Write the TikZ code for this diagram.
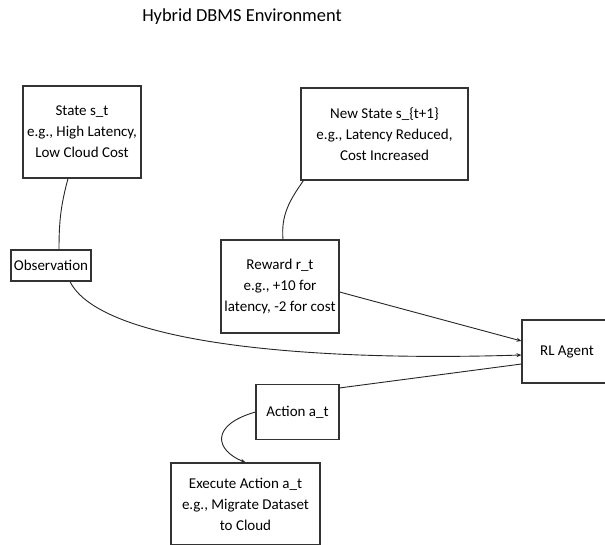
\documentclass[tikz,border=0pt]{standalone}
\usepackage{fontspec}
\setmainfont{Carlito}
\usetikzlibrary{arrows.meta,calc}

\tikzset{
  box/.style={draw=black!80, line width=1.1pt, rectangle, align=center,
    inner sep=0pt, font=\fontsize{15}{21}\selectfont},
  link/.style={draw=black!85, line width=0.9pt},
  arrowlink/.style={link, -{Stealth[length=5pt,width=4pt]}},
}

\begin{document}
\begin{tikzpicture}[x=1pt,y=-1pt]
  \clip (0,0) rectangle (605,544);
  \fill[white] (0,0) rectangle (605,544);

  % heading
  \node (title) at (242,17) {\fontsize{18.4}{22}\selectfont Hybrid DBMS Environment};

  % environment states, feedback and actions
  \node[box, minimum width=118pt, minimum height=92pt] (st) at (82,132)
    {State s\_t\\e.g., High Latency,\\Low Cloud Cost};
  \node[box, minimum width=167pt, minimum height=92pt] (ns) at (384.5,134)
    {New State s\_\{t+1\}\\e.g., Latency Reduced,\\Cost Increased};
  \node[box, minimum width=80pt, minimum height=31pt] (obs) at (51,265.5)
    {Observation};
  \node[box, minimum width=118pt, minimum height=93pt] (rew) at (280,286.5)
    {Reward r\_t\\e.g., +10 for\\latency, -2 for cost};
  \node[box, minimum width=90pt, minimum height=63pt] (agent) at (567,351.5)
    {RL Agent};
  \node[box, minimum width=83pt, minimum height=55pt] (act) at (297.5,412)
    {Action a\_t};
  \node[box, minimum width=149pt, minimum height=82pt] (exe) at (245.5,504)
    {Execute Action a\_t\\e.g., Migrate Dataset\\to Cloud};

  % connectors
  \draw[link] ($(st.south)+(-14,0)$) to[out=-105,in=90] ($(obs.north)+(8,0)$);
  \draw[arrowlink] ($(obs.south)+(19,0)$)
    .. controls (100,342) and (300,362) .. ($(agent.west)+(0,3.5)$);
  \draw[link] ($(ns.south west)+(3,0)$) to[out=-125,in=95] ($(rew.north)+(3,0)$);
  \draw[arrowlink] ($(rew.east)+(0,5.5)$) -- ($(agent.west)+(0,-10.5)$);
  \draw[link] ($(agent.west)+(0,12.5)$) -- ($(act.north east)+(0,4)$);
  \draw[arrowlink] (act.west) .. controls (210,425) and (215,450) .. (exe.north);
\end{tikzpicture}
\end{document}
